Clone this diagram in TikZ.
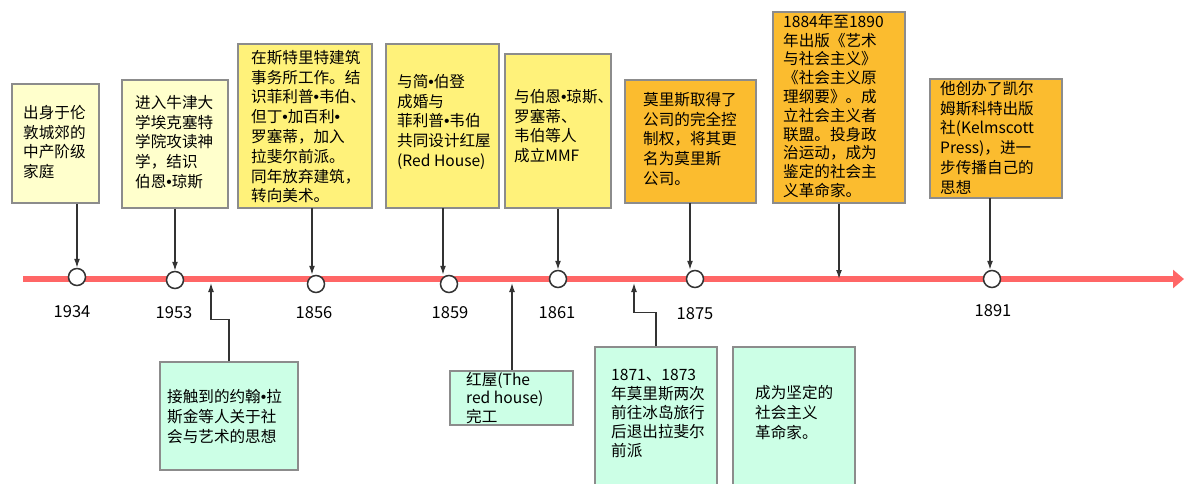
\documentclass[tikz,border=0pt]{standalone}
\usepackage{fontspec}
\setmainfont{Noto Sans CJK SC}
\newfontfamily\bulfont{Liberation Sans}
\newcommand{\bul}{{\bulfont •}}
\usetikzlibrary{arrows.meta,fit,calc}

\definecolor{paleyel}{HTML}{FFFFCC}
\definecolor{yel}{HTML}{FFF27A}
\definecolor{orng}{HTML}{FBBC2F}
\definecolor{mint}{HTML}{CCFFE6}
\definecolor{tlred}{HTML}{FF6666}
\definecolor{edgegrey}{HTML}{8C8C8C}
\definecolor{darkgrey}{HTML}{333333}

\begin{document}
\begin{tikzpicture}[x=1pt, y=-1pt]
\tikzset{evbox/.style={draw=edgegrey,line width=1.5pt,inner sep=0pt},
boxtext/.style={anchor=north west,inner sep=0pt,align=left,font=\fontsize{15.6}{19.8}\selectfont},
yearlabel/.style={font=\fontsize{16.5}{18}\selectfont},
dot/.style={circle,draw=darkgrey,fill=white,line width=1.5pt,minimum size=17pt,inner sep=0pt},
conn/.style={darkgrey,line width=1.3pt,-{Latex[length=9pt,width=6pt]}},
timeline/.style={tlred,line width=6pt,-{Triangle[length=11pt,width=18pt]}}}

\clip (0,0) rectangle (1184,484);

%% Boxes above the line
\node (b1) [evbox,fill=paleyel,fit={(12,84) (99,203)}] {};
\node (b2) [evbox,fill=paleyel,fit={(122,80) (228,208)}] {};
\node (b3) [evbox,fill=yel,fit={(238,44) (372,208)}] {};
\node (b4) [evbox,fill=yel,fit={(386,44) (499,208)}] {};
\node (b5) [evbox,fill=yel,fit={(505,54) (611,208)}] {};
\node (b6) [evbox,fill=orng,fit={(625,80) (756,203)}] {};
\node (b7) [evbox,fill=orng,fit={(773,12) (905,203)}] {};
\node (b8) [evbox,fill=orng,fit={(930,79) (1062,198)}] {};

%% Boxes below the line
\node (b9) [evbox,fill=mint,fit={(160,362) (298,470)}] {};
\node (b10) [evbox,fill=mint,fit={(450,371) (573,425)}] {};
\node (b11) [evbox,fill=mint,fit={(595,347) (717,494)}] {};
\node (b12) [evbox,fill=mint,fit={(733,347) (855,494)}] {};

\node (t1) [boxtext] at (23,105) {出身于伦\\敦城郊的\\中产阶级\\家庭};
\node (t2) [boxtext] at (135,95) {进入牛津大\\学埃克塞特\\学院攻读神\\学，结识\\伯恩\bul 琼斯};
\node (t3) [boxtext] at (251,50) {在斯特里特建筑\\事务所工作。结\\识菲利普\bul 韦伯、\\但丁\bul 加百利\bul\\罗塞蒂，加入\\拉斐尔前派。\\同年放弃建筑，\\转向美术。};
\node (t4) [boxtext] at (397,74) {与简\bul 伯登\\成婚与\\菲利普\bul 韦伯\\共同设计红屋\\(Red House)};
\node (t5) [boxtext] at (514,89) {与伯恩\bul 琼斯、\\罗塞蒂、\\韦伯等人\\成立MMF};
\node (t6) [boxtext] at (643,92) {莫里斯取得了\\公司的完全控\\制权，将其更\\名为莫里斯\\公司。};
\node (t7) [boxtext,font=\fontsize{15.6}{18.8}\selectfont] at (783,14) {1884年至1890\\年出版《艺术\\与社会主义》\\《社会主义原\\理纲要》。成\\立社会主义者\\联盟。投身政\\治运动，成为\\鉴定的社会主\\义革命家。};
\node (t8) [boxtext] at (940,81) {他创办了凯尔\\姆斯科特出版\\社(Kelmscott\\Press)，进一\\步传播自己的\\思想};
\node (t9) [boxtext] at (167,389) {接触到的约翰\bul 拉\\斯金等人关于社\\会与艺术的思想};
\node (t10) [boxtext,font=\fontsize{15.6}{18.5}\selectfont] at (466,372) {红屋(The\\red house)\\完工};
\node (t11) [boxtext,font=\fontsize{15.6}{19}\selectfont] at (611,369) {1871、1873\\年莫里斯两次\\前往冰岛旅行\\后退出拉斐尔\\前派};
\node (t12) [boxtext] at (755,385) {成为坚定的\\社会主义\\革命家。};

%% Timeline
\coordinate (l0) at (23,279);
\coordinate (l1) at (1184,279);
\draw[timeline] (l0) -- (l1);

\node (c1) [dot] at (77,277) {};
\node (c2) [dot] at (175,280) {};
\node (c3) [dot] at (316,284) {};
\node (c4) [dot] at (449,284) {};
\node (c5) [dot] at (558,279) {};
\node (c6) [dot] at (695,279) {};
\node (c7) [dot] at (992,279) {};

\foreach \x/\y/\lab in {72/312/1934, 174/313/1953, 314/313/1856, 450/313/1859, 557/313/1861, 695/314/1875, 993/311/1891}
  \node (y\lab) [yearlabel] at (\x,\y) {\lab};

%% Edges
\draw[conn] (c1 |- b1.south) -- (c1.north);
\draw[conn] (c2 |- b2.south) -- (c2.north);
\draw[conn] (312,208) -- (c3.north -| 312,0);
\draw[conn] (443,208) -- (c4.north -| 443,0);
\draw[conn] (c5 |- b5.south) -- (c5.north);
\draw[conn] (690,203) -- (c6.north -| 690,0);
\coordinate (a7) at (839,279);
\draw[conn] (a7 |- b7.south) -- (a7);
\draw[conn] (990,198) -- (c7.north -| 990,0);

\coordinate (a9) at (211,283);
\coordinate (a10) at (512,283);
\coordinate (a11) at (634,283);
\draw[conn] (b9.north) -- ++(0,-42) -| (a9);
\draw[conn] (a10 |- b10.north) -- (a10);
\draw[conn] (b11.north) -- ++(0,-34) -| (a11);

\end{tikzpicture}
\end{document}
